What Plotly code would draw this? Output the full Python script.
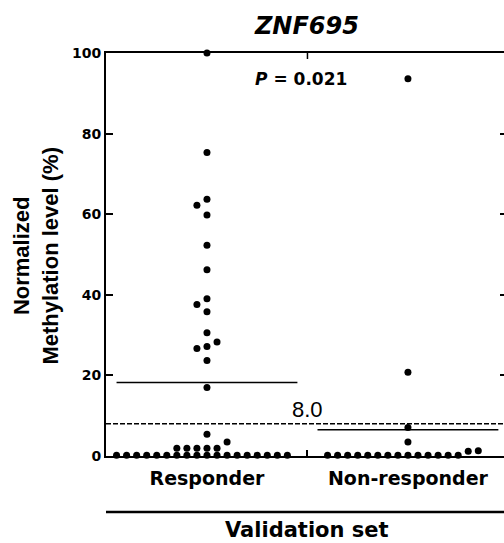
import numpy as np
import plotly.graph_objects as go

# ---------------- data ----------------
gene = "ZNF695"
categories = ["Responder", "Non-responder"]
responder = [100.0, 75.3, 63.7, 62.2, 59.8, 52.3, 46.2, 39.0, 37.6, 35.8,
             30.6, 28.3, 27.2, 26.7, 23.7, 17.0, 5.4, 3.5,
             1.9, 1.9, 1.9, 1.9, 1.9,
             0.2, 0.2, 0.2, 0.2, 0.2, 0.2, 0.2, 0.2, 0.2,
             0.2, 0.2, 0.2, 0.2, 0.2, 0.2, 0.2, 0.2, 0.2]
non_responder = [93.6, 20.8, 7.1, 3.5, 1.3, 1.2,
                 0.2, 0.2, 0.2, 0.2, 0.2, 0.2, 0.2,
                 0.2, 0.2, 0.2, 0.2, 0.2, 0.2, 0.2]
cutoff = 8.0
cutoff_label = "8.0"
p_text = "<b><i>P</i> = 0.021</b>"
group_title = "Validation set"
y_title = "Normalized<br>Methylation level (%)"
y_ticks = [0, 20, 40, 60, 80, 100]

# ---------------- styling constants ----------------
SLOT = 0.05        # horizontal spacing between side-by-side dots (x units)
ROW_H = 1.65       # values closer than this share a row of dots
HALF = 0.45        # half width of the mean line
BOLD = "DejaVu Sans"
ARIAL = "Liberation Sans, Arial"


def dot_columns(values, row_h=ROW_H):
    """Column-scatter layout: group close values into rows, spread each row."""
    vals = np.asarray(values, dtype=float)
    order = np.argsort(vals, kind="stable")
    slots = np.zeros(len(vals))
    i = 0
    while i < len(order):
        start = vals[order[i]]
        j = i
        while j < len(order) and vals[order[j]] < start + row_h:
            j += 1
        n = j - i
        for k in range(n):
            slots[order[i + k]] = k - n // 2
        i = j
    return slots


fig = go.Figure()
for idx, vals in enumerate([responder, non_responder]):
    slots = dot_columns(vals)
    fig.add_trace(go.Scatter(
        x=idx + slots * SLOT, y=vals, mode="markers",
        marker=dict(color="black", size=7, line=dict(width=0)),
        cliponaxis=False, showlegend=False, hoverinfo="skip"))
    m = float(np.mean(vals))
    fig.add_shape(type="line", xref="x", yref="y", x0=idx - HALF, x1=idx + HALF,
                  y0=m, y1=m, line=dict(color="black", width=1.5))

# empty traces so the tick-only overlay axes are drawn
for xa, ya in [("x2", "y"), ("x", "y2")]:
    fig.add_trace(go.Scatter(x=[], y=[], xaxis=xa, yaxis=ya, showlegend=False,
                             hoverinfo="skip"))

# cutoff line
fig.add_shape(type="line", xref="paper", yref="y", x0=0, x1=1, y0=cutoff, y1=cutoff,
              line=dict(color="black", width=1.5, dash="5px,2px"))
# thick group line under category labels
fig.add_shape(type="line", xref="paper", yref="paper", x0=0, x1=1, y0=-0.139, y1=-0.139,
              line=dict(color="black", width=2.5))
# small tick on the top frame at the category boundary
boundary = (0 + 1) / 2
fig.add_shape(type="line", xref="x", yref="paper", x0=boundary, x1=boundary,
              y0=1, y1=1 - 6 / 403, line=dict(color="black", width=1.5))

XR = [-0.5025, 1.478]
fig.update_layout(
    width=504, height=543,
    margin=dict(l=106, r=0, t=53, b=87),
    paper_bgcolor="white", plot_bgcolor="white",
    title=dict(text="<b><i>%s</i></b>" % gene, x=0.609, xanchor="center",
               y=1 - 26 / 543, yanchor="middle",
               font=dict(family=BOLD, size=24, color="black")),
    xaxis=dict(range=XR, tickvals=[0, 1], ticktext=categories, ticks="",
               showline=True, linecolor="black", linewidth=2, mirror=True,
               showgrid=False, zeroline=False, ticklabelstandoff=4,
               tickfont=dict(family=BOLD, size=19, color="black", weight="bold")),
    xaxis2=dict(range=XR, overlaying="x", anchor="y", side="bottom",
                tickvals=[boundary], ticks="inside", ticklen=6, tickwidth=1.5,
                tickcolor="black", showline=False, showgrid=False, zeroline=False,
                showticklabels=False),
    yaxis=dict(range=[0, 100], tickvals=y_ticks, ticks="inside", ticklen=7,
               tickwidth=1.5, tickcolor="black", showline=True, linecolor="black",
               linewidth=2, showgrid=False, zeroline=False,
               tickfont=dict(family=BOLD, size=14, color="black", weight="bold")),
    yaxis2=dict(range=[0, 100], overlaying="y", side="right", anchor="x",
                tickvals=y_ticks, ticks="inside", ticklen=4, tickwidth=1.5,
                tickcolor="black", showline=False, showgrid=False, zeroline=False,
                showticklabels=False),
    annotations=[
        dict(x=0.468, y=93.6, xref="x", yref="y", text=p_text, showarrow=False,
             font=dict(family=BOLD, size=17, color="black")),
        dict(x=0.5, y=cutoff, xref="x", yref="y", text=cutoff_label, showarrow=False,
             yanchor="bottom", font=dict(family=ARIAL, size=22, color="black")),
        dict(x=0.505, y=-0.218, xref="paper", yref="paper", text="<b>%s</b>" % group_title,
             showarrow=False, font=dict(family=BOLD, size=21, color="black")),
        dict(x=-0.1746, y=0.496, xref="paper", yref="paper", text="<b>%s</b>" % y_title,
             textangle=-90, showarrow=False, xanchor="center", yanchor="middle",
             font=dict(family=ARIAL, size=22, color="black")),
    ],
)

fig.write_html("out.html", config={"displayModeBar": False},
               post_script="document.body.style.margin='0';"
                           "document.body.style.overflow='hidden';")
